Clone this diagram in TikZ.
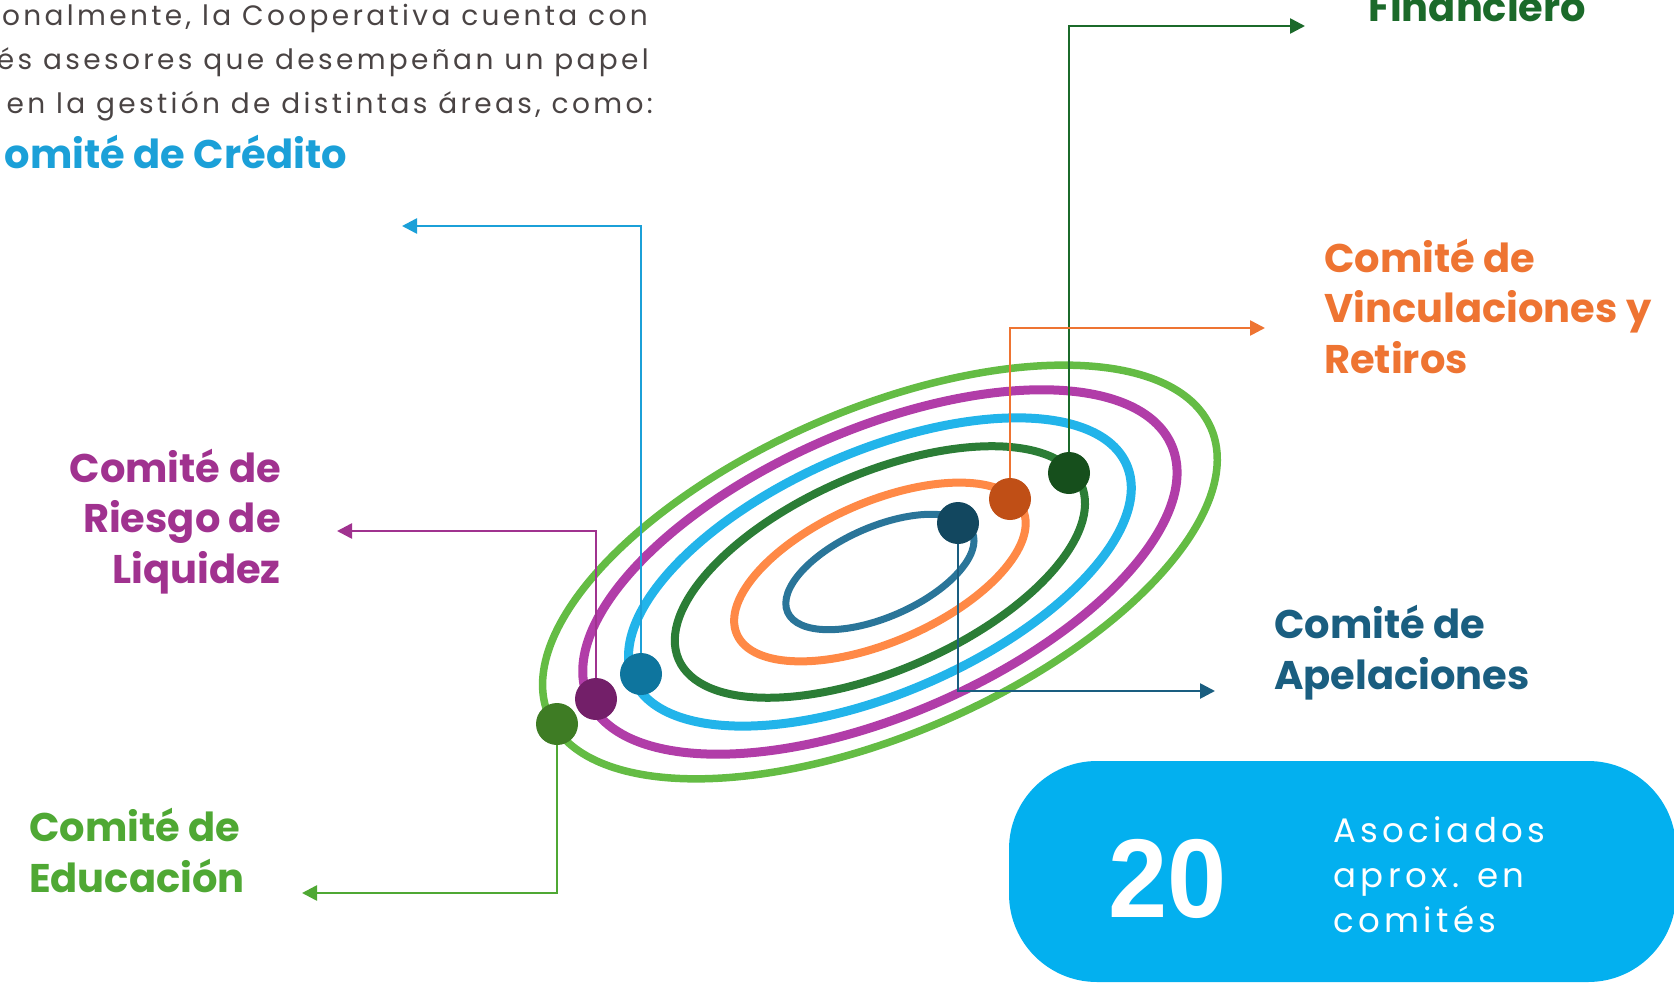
\documentclass[tikz,border=0pt]{standalone}
\usepackage{fontspec}
\setmainfont{Poppins}
\newfontfamily\bodyfont[LetterSpace=12]{Poppins}
\newfontfamily\boxfont[LetterSpace=13]{Poppins}
\newfontfamily\numfont{Liberation Sans}
\usetikzlibrary{arrows.meta}
\definecolor{ctext}{HTML}{4A4444}
\definecolor{ccre}{HTML}{1BA0D8}
\definecolor{cfin}{HTML}{1B6A2A}
\definecolor{cvin}{HTML}{EE7432}
\definecolor{crie}{HTML}{A0328F}
\definecolor{cape}{HTML}{1A5E80}
\definecolor{cedu}{HTML}{4FA834}
\definecolor{rteal}{HTML}{2A7599}
\definecolor{rorange}{HTML}{FF8946}
\definecolor{rdkgreen}{HTML}{2B7D36}
\definecolor{rltblue}{HTML}{22B4EA}
\definecolor{rpurple}{HTML}{B13DA8}
\definecolor{rgreen}{HTML}{64BC44}
\definecolor{dfin}{HTML}{164F1C}
\definecolor{dvin}{HTML}{C04F16}
\definecolor{dape}{HTML}{12475F}
\definecolor{dcre}{HTML}{0E759E}
\definecolor{drie}{HTML}{731F69}
\definecolor{dedu}{HTML}{3E7C24}
\definecolor{boxblue}{HTML}{03B0EF}
\tikzset{
  lbl/.style={inner sep=0pt, font=\bfseries\fontsize{40}{50.5}\selectfont},
  para/.style={inner sep=0pt, text=ctext, font=\bodyfont\fontsize{28}{44}\selectfont, anchor=base east},
  conn/.style={line width=2.6pt, -{Triangle[length=15pt,width=15pt]}},
  dotnode/.style={circle, minimum size=42pt, inner sep=0pt},
  ring/.style={line width=8pt}
}
\begin{document}
\begin{tikzpicture}[x=1pt,y=-1pt]
\useasboundingbox (0,0) rectangle (1674,983);
\clip (0,0) rectangle (1674,983);
% paragraph
\node[para] (p1) at (648,25) {onalmente, la Cooperativa cuenta con};
\node[para] (p2) at (649,69) {és asesores que desempeñan un papel};
\node[para] (p3) at (653,113) {en la gestión de distintas áreas, como:};
% labels (multi-line nodes: base = last line)
\node[lbl, text=ccre, anchor=base east] (lcre) at (347,168) {omité de Crédito};
\node[lbl, text=cfin, anchor=base west] (lfin) at (1368,21) {Financiero};
\node[lbl, text=cvin, anchor=base west, align=left] (lvin) at (1324,373) {Comité de\\Vinculaciones y\\Retiros};
\node[lbl, text=crie, anchor=base east, align=right] (lrie) at (281,583) {Comité de\\Riesgo de\\Liquidez};
\node[lbl, text=cape, anchor=base west, align=left] (lape) at (1274,689) {Comité de\\Apelaciones};
\node[lbl, text=cedu, anchor=base west, align=left] (ledu) at (29,892) {Comité de\\Educación};
% rings
\coordinate (C) at (880,572);
\draw[ring, rgreen, line width=7.5pt, rotate around={23.5:(C)}] (C) ellipse [x radius=361pt, y radius=162pt];
\draw[ring, rpurple, line width=9pt, rotate around={23.5:(C)}] (C) ellipse [x radius=318pt, y radius=142.7pt];
\draw[ring, rltblue, line width=9pt, rotate around={23.5:(C)}] (C) ellipse [x radius=269pt, y radius=120.7pt];
\draw[ring, rdkgreen, rotate around={23.5:(C)}] (C) ellipse [x radius=219.5pt, y radius=98.5pt];
\draw[ring, rorange, rotate around={23.5:(C)}] (C) ellipse [x radius=156pt, y radius=70pt];
\draw[ring, rteal, line width=7pt, rotate around={23.5:(C)}] (C) ellipse [x radius=100.7pt, y radius=45.2pt];
% dot positions
\coordinate (pfin) at (1069,473);
\coordinate (pvin) at (1010,499);
\coordinate (pape) at (958,523);
\coordinate (pcre) at (641,674);
\coordinate (prie) at (596,699);
\coordinate (pedu) at (557,724);
% connector ends
\coordinate (efin) at (1305,26);
\coordinate (evin) at (1265,328);
\coordinate (eape) at (1215,691);
\coordinate (ecre) at (402,226);
\coordinate (erie) at (337,531);
\coordinate (eedu) at (302,893);
\draw[conn, cfin] (pfin) |- (efin);
\draw[conn, cvin] (pvin) |- (evin);
\draw[conn, cape] (pape) |- (eape);
\draw[conn, ccre] (pcre) |- (ecre);
\draw[conn, crie] (prie) |- (erie);
\draw[conn, cedu] (pedu) |- (eedu);
% dots on top
\node[dotnode, fill=dfin] (dfin) at (pfin) {};
\node[dotnode, fill=dvin] (dvin) at (pvin) {};
\node[dotnode, fill=dape] (dape) at (pape) {};
\node[dotnode, fill=dcre] (dcre) at (pcre) {};
\node[dotnode, fill=drie] (drie) at (prie) {};
\node[dotnode, fill=dedu] (dedu) at (pedu) {};
% box
\fill[boxblue, rounded corners=88pt] (1009,761) rectangle (1676,982);
\node[inner sep=0pt, text=white, anchor=base, font=\numfont\bfseries\fontsize{112}{112}\selectfont, xscale=0.95] (num) at (1168,917) {20};
\node[inner sep=0pt, text=white, anchor=base west, align=left, font=\boxfont\fontsize{34}{45}\selectfont] (btxt) at (1333,932) {Asociados\\aprox. en\\comités};
\end{tikzpicture}
\end{document}
